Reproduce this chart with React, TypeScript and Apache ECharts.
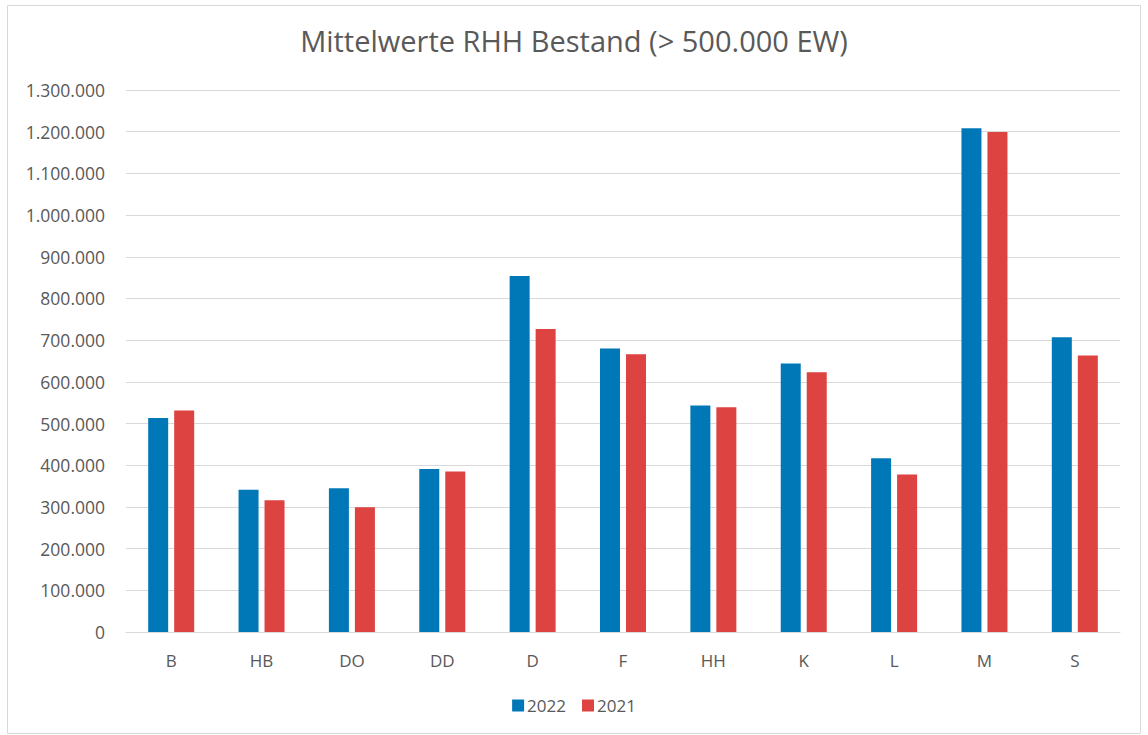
import React, { useEffect, useRef } from "react";
import * as echarts from "echarts";

const categories = ["B", "HB", "DO", "DD", "D", "F", "HH", "K", "L", "M", "S"];
const values2022 = [513000, 341000, 345000, 391000, 854000, 680000, 543000, 644000, 417000, 1208000, 707000];
const values2021 = [531000, 316000, 299000, 385000, 727000, 666000, 539000, 623000, 378000, 1199000, 663000];
const seriesNames = ["2022", "2021"];
const titleText = "Mittelwerte RHH Bestand (> 500.000 EW)";

const fmt = (v: number) => String(Math.round(v)).replace(/\B(?=(\d{3})+(?!\d))/g, ".");

export default function App() {
  const ref = useRef<HTMLDivElement>(null);
  useEffect(() => {
    if (!ref.current) return;
    const chart = echarts.init(ref.current, undefined, { renderer: "svg" });
    const font = "'Open Sans', sans-serif";
    chart.setOption({
      animation: false,
      backgroundColor: "#ffffff",
      textStyle: { fontFamily: font },
      title: {
        text: titleText,
        left: "center",
        top: 21,
        textStyle: { fontSize: 29, fontWeight: "normal", color: "#595959", fontFamily: font },
      },
      graphic: [
        {
          type: "rect",
          shape: { x: 7.5, y: 5.5, width: 1133, height: 728 },
          style: { fill: "none", stroke: "#d9d9d9", lineWidth: 1 },
          silent: true,
        },
      ],
      legend: {
        bottom: 16,
        left: "center",
        itemWidth: 12,
        itemHeight: 12,
        itemGap: 16,
        icon: "rect",
        textStyle: { fontSize: 17, color: "#595959", fontFamily: font, padding: [0, 0, 0, -2] },
        data: seriesNames,
      },
      grid: { left: 126, right: 28, top: 90, bottom: 103, containLabel: false },
      xAxis: {
        type: "category",
        data: categories,
        axisLine: { lineStyle: { color: "#d9d9d9", width: 1 } },
        axisTick: { show: false },
        axisLabel: { color: "#595959", fontSize: 17, margin: 20, fontFamily: font },
      },
      yAxis: {
        type: "value",
        min: 0,
        max: 1300000,
        interval: 100000,
        axisLine: { show: false },
        axisTick: { show: false },
        splitLine: { lineStyle: { color: "#d9d9d9", width: 1 } },
        axisLabel: { color: "#595959", fontSize: 17.5, margin: 21, fontFamily: font, formatter: (v: number) => fmt(v) },
      },
      series: [
        {
          name: seriesNames[0],
          type: "bar",
          data: values2022,
          barWidth: 20,
          barGap: "30%",
          itemStyle: { color: "#0078B8" },
        },
        {
          name: seriesNames[1],
          type: "bar",
          data: values2021,
          barWidth: 20,
          barGap: "30%",
          itemStyle: { color: "#DC4341" },
        },
      ],
    });
    return () => chart.dispose();
  }, []);
  return (
    <div
      ref={ref}
      style={{ position: "fixed", left: 0, top: 0, width: 1148, height: 735 }}
    />
  );
}
